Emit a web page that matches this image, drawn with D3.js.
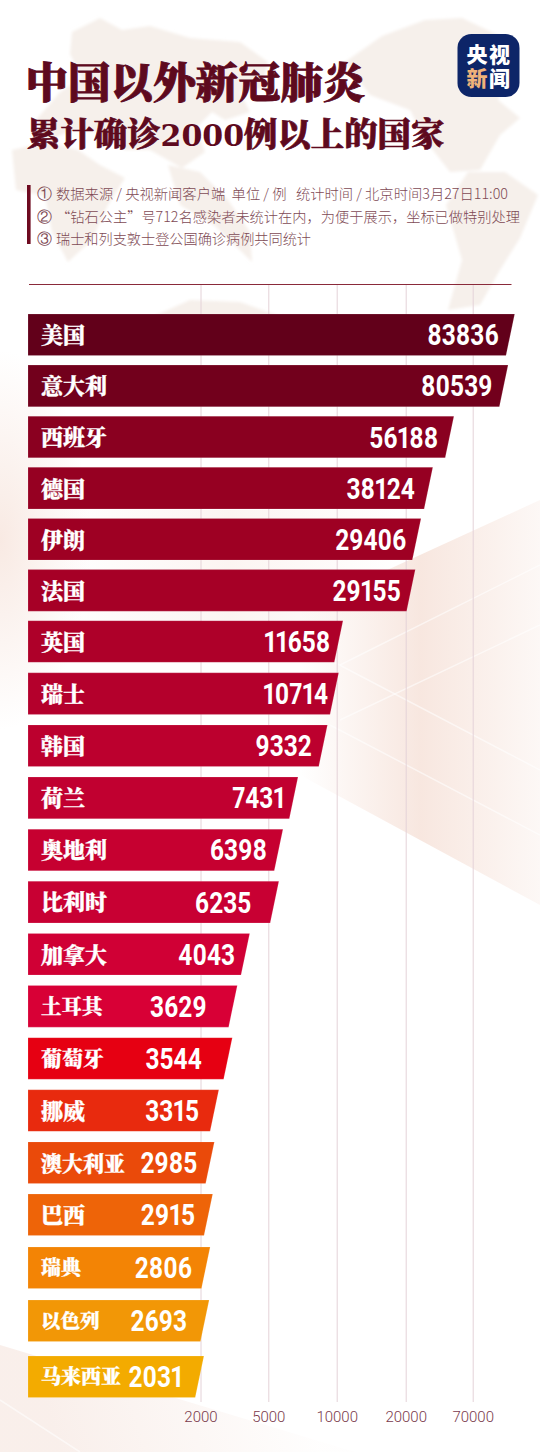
<!DOCTYPE html>
<html lang="zh">
<head>
<meta charset="utf-8">
<script src="https://cdn.jsdelivr.net/npm/d3@7/dist/d3.min.js"></script>
<style>
html,body{margin:0;padding:0;background:#fff;}
svg{display:block;}
</style>
</head>
<body>
<svg id="chart" width="540" height="1452"></svg>
<script>
const titleLine1 = "中国以外新冠肺炎";
const titleLine2 = ["累计确诊", "2000", "例以上的国家"];
const notes = [
  ["①", "数据来源 / 央视新闻客户端  单位 / 例   统计时间 / 北京时间3月27日11:00"],
  ["②", "“钻石公主”号712名感染者未统计在内，为便于展示，坐标已做特别处理"],
  ["③", "瑞士和列支敦士登公国确诊病例共同统计"]
];
const countries = ["美国","意大利","西班牙","德国","伊朗","法国","英国","瑞士","韩国","荷兰","奥地利","比利时","加拿大","土耳其","葡萄牙","挪威","澳大利亚","巴西","瑞典","以色列","马来西亚"];
const cases = [83836,80539,56188,38124,29406,29155,11658,10714,9332,7431,6398,6235,4043,3629,3544,3315,2985,2915,2806,2693,2031];
const barColors = ["#62001a","#72001c","#8a0020","#960022","#9e0023","#a60026","#ae0029","#b4002c","#bc002e","#c10030","#c60030","#c80033","#d00035","#d80036","#e60012","#e82a0e","#ea4a0a","#ee6408","#f38405","#f29706","#f3ab00"];
const tickValues = [2000,5000,10000,20000,70000];

// The published axis is deliberately non-linear ("坐标已做特别处理"), so the scale is piecewise.
const xKnotValues = [2000,2031,2800,3000,3330,3544,3629,4043,5000,6200,6400,7500,9300,10000,10714,11658,20000,29155,29406,38124,56188,70000,80000,84000];
const xKnotPixels = [200.5,203.9,210,214.7,219,232.3,237.3,249.7,268.3,278,283,299,327,336.7,338.7,343,405.7,415.3,421,432.8,453.9,472.7,507,515];
const x = d3.scaleLinear().domain(xKnotValues).range(xKnotPixels);
const y = d3.scaleLinear().domain([0,6,17,19,20]).range([314,620.7,1194,1300,1356]);
const barH = 41.6, slant = 8.7, barLeft = 28;
const numberInset = [16,15.6,15.5,18,14.6,14.6,12.6,10.7,15.6,13,16,27.6,14.7,30.6,30.6,19.7,17,17.7,18,22,21];
const labelSize = {"瑞典":20,"以色列":19.5,"马来西亚":20,"澳大利亚":21,"土耳其":20.5,"葡萄牙":21};

const svg = d3.select("#chart");
const cjkSerif = "'Noto Serif CJK SC','Source Han Serif SC','Noto Sans CJK SC',sans-serif";
const cjk = "'Noto Sans CJK SC',sans-serif";
const defs = svg.append("defs");

// ---------- background ----------
const bg = svg.append("g");
function grad(id, stops, x1, y1, x2, y2){
  const g = defs.append("linearGradient").attr("id",id).attr("gradientUnits","userSpaceOnUse")
    .attr("x1",x1).attr("y1",y1).attr("x2",x2).attr("y2",y2);
  stops.forEach(s=>g.append("stop").attr("offset",s[0]).attr("stop-color",s[1]).attr("stop-opacity",s[2]));
}
grad("gRight",[[0,"#f3d8cc",0],[0.5,"#f3d8cc",.62],[1,"#f3d8cc",.18]],300,700,540,700);
grad("gBottom",[[0,"#f1d9cf",.42],[1,"#f1d9cf",0.03]],60,1452,300,1380);
grad("gMid",[[0,"#f4ddd3",0],[.5,"#f4ddd3",.3],[1,"#f4ddd3",0]],60,560,400,560);
const rg = defs.append("radialGradient").attr("id","gLeft").attr("gradientUnits","userSpaceOnUse")
  .attr("cx",0).attr("cy",540).attr("r",1).attr("gradientTransform","translate(0,540) scale(90,190) translate(0,-540)");
rg.append("stop").attr("offset",0).attr("stop-color","#f3d8cc").attr("stop-opacity",.55);
rg.append("stop").attr("offset",1).attr("stop-color","#f3d8cc").attr("stop-opacity",0);
const bl = defs.append("filter").attr("id","soft").attr("x","-10%").attr("y","-10%").attr("width","120%").attr("height","120%");
bl.append("feGaussianBlur").attr("stdDeviation",1.6);

const bgShapes = [
  ["M540,500 L300,610 L300,775 L540,905 Z","url(#gRight)"],
  ["M0,340 L100,340 L100,740 L0,740 Z","url(#gLeft)"],
  ["M0,1345 L355,1452 L0,1452 Z","url(#gBottom)"],
  ["M60,510 L400,510 L400,620 L60,620 Z","url(#gMid)"]
];
bg.selectAll("path.s").data(bgShapes).join("path").attr("class","s").attr("d",d=>d[0]).attr("fill",d=>d[1]);
const lightLines = [[340,665,540,565],[340,720,540,625],[330,660,540,770],[330,725,540,835],[0,1400,80,1452]];
bg.selectAll("line.s").data(lightLines).join("line").attr("class","s")
  .attr("x1",d=>d[0]).attr("y1",d=>d[1]).attr("x2",d=>d[2]).attr("y2",d=>d[3])
  .attr("stroke","#fff").attr("stroke-opacity",.55).attr("stroke-width",1.5);

const mapBlobs = [
  "M72,32 L100,18 L122,30 L150,26 L190,38 L240,42 L268,62 L262,88 L240,92 L250,112 L225,120 L212,112 L196,128 L205,152 L182,168 L150,150 L125,150 L100,132 L72,130 L50,140 L36,120 L60,92 L82,78 L70,54 Z",
  "M12,150 L48,142 L78,150 L100,165 L125,178 L108,205 L92,240 L68,262 L52,232 L45,196 L16,190 Z",
  "M168,165 L200,172 L228,200 L250,232 L252,262 L215,226 L180,205 Z",
  "M150,318 L190,300 L240,302 L285,318 L150,318 Z",
  "M345,62 L382,36 L425,20 L462,18 L500,36 L515,62 L498,100 L520,118 L500,135 L480,170 L450,172 L425,140 L410,110 L370,95 Z",
  "M468,172 L505,172 L538,195 L520,238 L500,270 L480,305 L448,310 L462,260 L446,205 Z"
];
bg.append("g").attr("filter","url(#soft)").selectAll("path").data(mapBlobs).join("path").attr("d",d=>d).attr("fill","#f6f0eb");

// ---------- header ----------
const title = svg.append("g").attr("fill","#5e0a1e");
title.append("text").attr("x",25.5).attr("y",98).attr("font-family",cjkSerif).attr("font-weight",900)
  .attr("font-size",42.5).attr("stroke","#5e0a1e").attr("stroke-width",.9).text(titleLine1);
const t2 = title.append("text").attr("x",27).attr("y",146).attr("font-family",cjkSerif).attr("font-weight",900)
  .attr("font-size",33.4).attr("stroke","#5e0a1e").attr("stroke-width",.7);
t2.append("tspan").text(titleLine2[0]);
t2.append("tspan").attr("font-family","'DejaVu Serif',serif").attr("font-weight",700).attr("font-size",30).attr("stroke-width",0).text(titleLine2[1]);
t2.append("tspan").text(titleLine2[2]);

svg.append("rect").attr("x",27).attr("y",185).attr("width",3.6).attr("height",59).attr("fill","#6e0a20");
const noteY = d3.scaleLinear().domain([0,2]).range([199,244]);
const noteG = svg.append("g").attr("font-family",cjk).attr("font-size",14).attr("fill","#7e4a54").attr("font-weight",300);
notes.forEach((n,i)=>{
  noteG.append("text").attr("x",37).attr("y",noteY(i)).attr("font-family","'DejaVu Sans',sans-serif").attr("font-size",14.5).text(n[0]);
  noteG.append("text").attr("x",56).attr("y",noteY(i)).attr("textLength",i===0?452:(i===1?464:255)).attr("lengthAdjust","spacingAndGlyphs").attr("xml:space","preserve").text(n[1]);
});
svg.append("line").attr("x1",29).attr("x2",511.5).attr("y1",284.5).attr("y2",284.5).attr("stroke","#8a2a3a").attr("stroke-width",1);

// logo
const logo = svg.append("g");
logo.append("rect").attr("x",457.5).attr("y",34).attr("width",62).attr("height",63).attr("rx",14).attr("fill","#0d2568");
const logoRows = [[["央","#fff"],["视","#fff"]],[["新","#efb27a"],["闻","#fff"]]];
logoRows.forEach((row,r)=>row.forEach((c,k)=>{
  logo.append("text").attr("x",477+k*22.5).attr("y",61.5+r*24.5).attr("text-anchor","middle")
    .attr("font-family",cjk).attr("font-weight",900).attr("font-size",21).attr("fill",c[1]).text(c[0]);
}));

// ---------- axis / grid ----------
const axis = d3.axisBottom(x).tickValues(tickValues).tickFormat(d3.format("d")).tickSize(-(1402-285)).tickPadding(9);
const axisG = svg.append("g").attr("transform","translate(0,1402)").call(axis);
axisG.select(".domain").remove();
axisG.selectAll("line").attr("stroke","#e4d2d8").attr("stroke-width",1);
axisG.selectAll("text").attr("font-family","Roboto,sans-serif").attr("font-weight",300).attr("font-size",15).attr("fill","#7a3a4c");

// ---------- bars ----------
const rows = countries.map((name,i)=>({name,value:cases[i],color:barColors[i],inset:numberInset[i],i}));
const g = svg.selectAll("g.bar").data(rows).join("g").attr("class","bar");
g.append("path")
  .attr("d",d=>{
    const t=y(d.i), b=t+barH, r=x(d.value);
    return `M${barLeft},${t}L${r},${t}L${r-slant},${b}L${barLeft},${b}Z`;
  })
  .attr("fill",d=>d.color)
  .attr("stroke","#fff").attr("stroke-opacity",.25).attr("stroke-width",.6);
g.append("text")
  .attr("x",41).attr("y",d=>y(d.i)+barH/2+((labelSize[d.name]||22)*.38))
  .attr("font-family",cjkSerif).attr("font-weight",900)
  .attr("stroke","#fff").attr("stroke-width",.3)
  .attr("font-size",d=>labelSize[d.name]||22).attr("fill","#fff").text(d=>d.name);
g.append("text")
  .attr("transform",d=>`translate(${x(d.value)-d.inset},${y(d.i)+barH/2+10.5}) scale(.83,1)`)
  .attr("text-anchor","end").attr("font-family","Roboto,sans-serif").attr("font-weight",700)
  .style("font-feature-settings","'pnum' 1").style("font-variant-numeric","proportional-nums")
  .attr("font-size",29.5).attr("fill","#fff").text(d=>d.value);
</script>
</body>
</html>
